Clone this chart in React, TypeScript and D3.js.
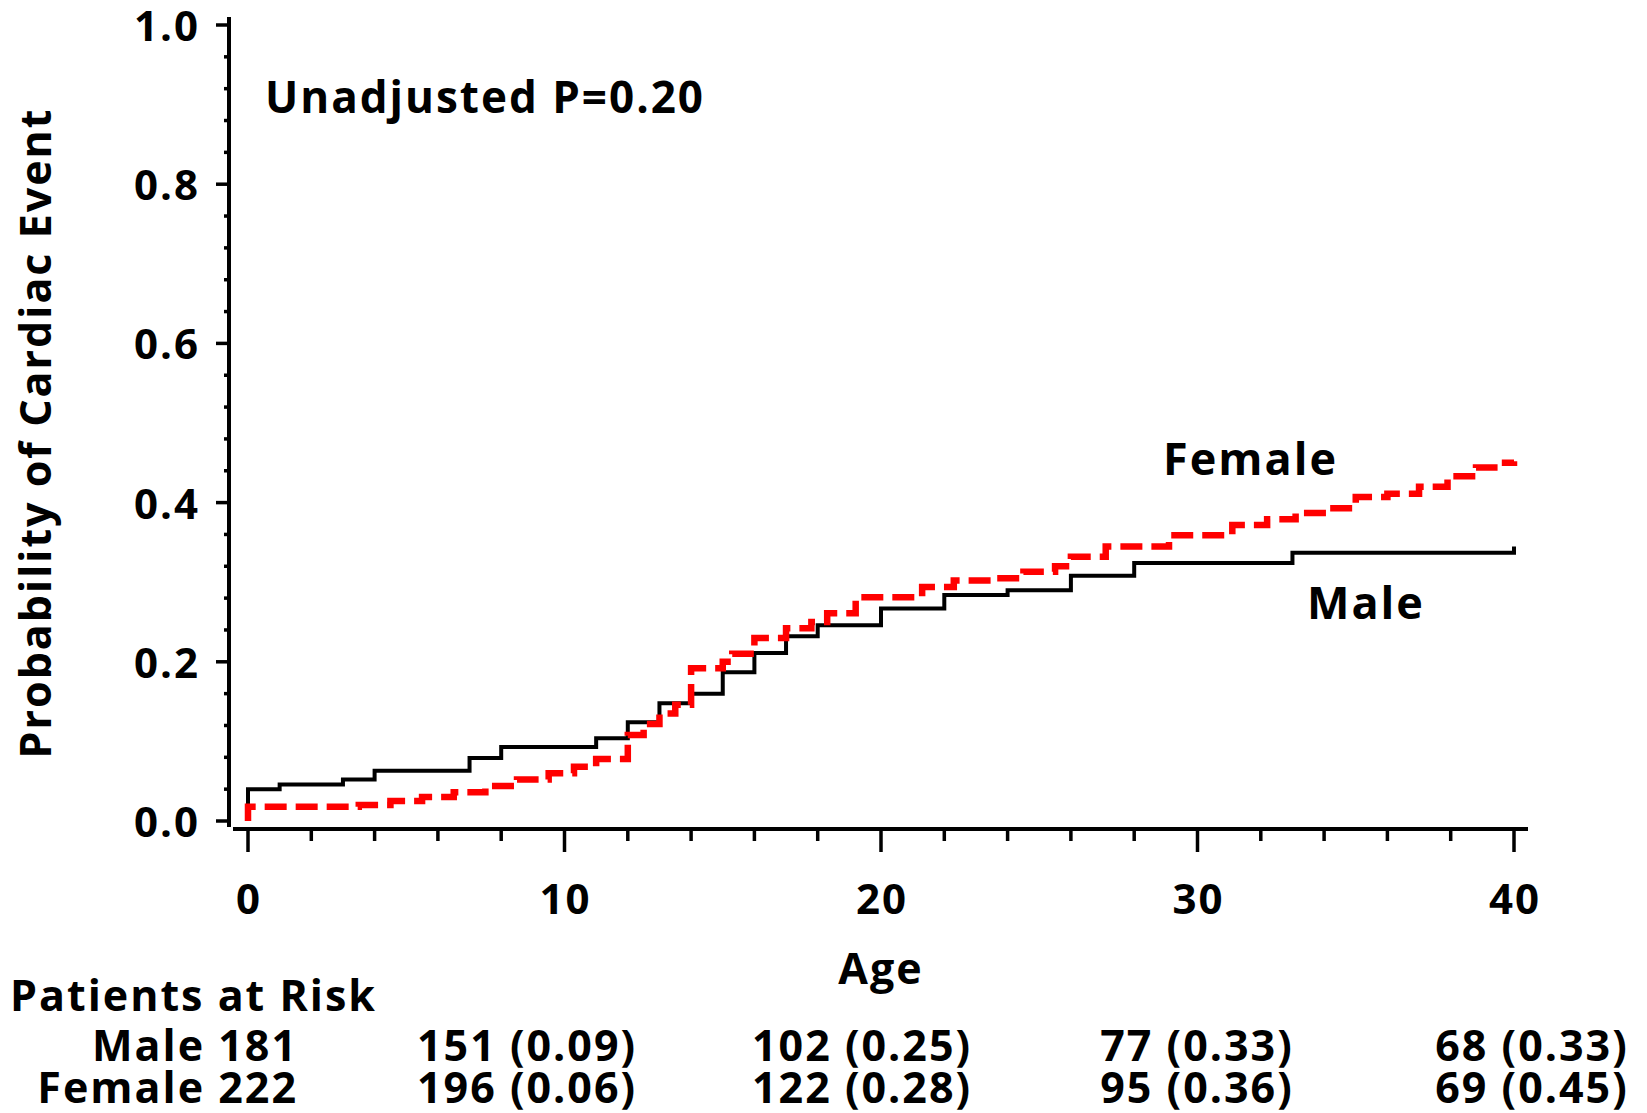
import React from "react";
import * as d3 from "d3";

// Kaplan–Meier style cumulative event probability by sex
const maleAge = [0, 0, 1, 3, 4, 7, 8, 11, 12, 13, 14, 15, 16, 17, 18, 20, 22, 24, 26, 28, 33, 40];
const maleProb = [0, 0.04, 0.046, 0.052, 0.063, 0.079, 0.093, 0.104, 0.124, 0.148, 0.16, 0.187, 0.211, 0.232, 0.246, 0.267, 0.284, 0.29, 0.308, 0.324, 0.337, 0.345];

const femaleAge = [0, 0, 3.5, 4.5, 5.5, 6.5, 7.5, 8.5, 9.5, 10.3, 11, 12, 12.5, 13, 13.5, 14, 15, 15.3, 16, 17, 17.8, 18.3, 19.2, 21.3, 22.3, 23.5, 24.5, 25.5, 26, 27.1, 29.1, 31.1, 32.2, 33.1, 34.1, 35, 36, 37, 37.9, 38.8, 39.5, 40];
const femaleProb = [0, 0.018, 0.02, 0.025, 0.03, 0.036, 0.044, 0.052, 0.06, 0.068, 0.078, 0.108, 0.122, 0.135, 0.146, 0.192, 0.2, 0.21, 0.23, 0.242, 0.25, 0.261, 0.281, 0.294, 0.302, 0.305, 0.313, 0.32, 0.332, 0.345, 0.359, 0.372, 0.379, 0.387, 0.393, 0.407, 0.411, 0.42, 0.433, 0.444, 0.45, 0.452];

const xMajorTicks = [0, 10, 20, 30, 40];
const xMinorTicks = [2, 4, 6, 8, 12, 14, 16, 18, 22, 24, 26, 28, 32, 34, 36, 38];
const yMajorTicks = [0, 0.2, 0.4, 0.6, 0.8, 1.0];
const yMinorTicks = d3.range(0, 1.0001, 0.04).filter((v) => Math.abs(v * 5 - Math.round(v * 5)) > 1e-6);

const riskRowLabels = ["Male 181", "Female 222"];
const riskMale = ["151 (0.09)", "102 (0.25)", "77 (0.33)", "68 (0.33)"];
const riskFemale = ["196 (0.06)", "122 (0.28)", "95 (0.36)", "69 (0.45)"];

const FONT = "'Open Sans', 'Noto Sans', sans-serif";
const LS = 2;

export default function App() {
  const width = 1647;
  const height = 1113;

  const x = d3.scaleLinear().domain([0, 40]).range([248, 1514]);
  const y = d3.scaleLinear().domain([0, 1]).range([821, 25]);

  const step = d3
    .line<[number, number]>()
    .x((d) => x(d[0]))
    .y((d) => y(d[1]))
    .curve(d3.curveStepAfter);

  const malePts = maleAge.map((a, i) => [a, maleProb[i]] as [number, number]);
  const femalePts = femaleAge.map((a, i) => [a, femaleProb[i]] as [number, number]);

  const cols = d3.scalePoint<number>().domain([0, 1, 2, 3]).range([527, 1532]);
  const rowY = [1061, 1103];

  const xAxisY = 829;
  const yAxisX = 229;

  return (
    <svg
      width={width}
      height={height}
      style={{ position: "absolute", left: 0, top: 0, background: "#fff" }}
      fontFamily={FONT}
      fontWeight="bold"
      letterSpacing={LS}
    >
      <rect width={width} height={height} fill="#fff" />

      {/* axes */}
      <line x1={yAxisX} x2={yAxisX} y1={17} y2={827} stroke="#000" strokeWidth={4} />
      <line x1={233} x2={1528} y1={xAxisY} y2={xAxisY} stroke="#000" strokeWidth={4} />

      {yMajorTicks.map((t) => (
        <g key={"ym" + t}>
          <line x1={yAxisX - 13} x2={yAxisX} y1={y(t)} y2={y(t)} stroke="#000" strokeWidth={3.5} />
          <text x={200} y={y(t) + 16} textAnchor="end" fontSize={42}>
            {t.toFixed(1)}
          </text>
        </g>
      ))}
      {yMinorTicks.map((t) => (
        <line key={"yn" + t} x1={yAxisX - 5} x2={yAxisX} y1={y(t)} y2={y(t)} stroke="#000" strokeWidth={3.5} />
      ))}

      {xMajorTicks.map((t) => (
        <g key={"xm" + t}>
          <line x1={x(t)} x2={x(t)} y1={xAxisY} y2={xAxisY + 23} stroke="#000" strokeWidth={3.5} />
          <text x={x(t) + 1} y={914} textAnchor="middle" fontSize={42}>
            {t}
          </text>
        </g>
      ))}
      {xMinorTicks.map((t) => (
        <line key={"xn" + t} x1={x(t)} x2={x(t)} y1={xAxisY} y2={xAxisY + 12} stroke="#000" strokeWidth={3.5} />
      ))}

      {/* axis titles */}
      <text x={881} y={984} textAnchor="middle" fontSize={43}>
        Age
      </text>
      <text transform="translate(51,433) rotate(-90)" textAnchor="middle" fontSize={43}>
        Probability of Cardiac Event
      </text>

      {/* curves */}
      <path d={step(malePts) ?? ""} fill="none" stroke="#000" strokeWidth={4} />
      <path
        d={step(femalePts) ?? ""}
        fill="none"
        stroke="#ff0000"
        strokeWidth={6.5}
        strokeDasharray="22 9"
      />

      {/* annotations */}
      <text x={265} y={113} fontSize={44}>
        Unadjusted P=0.20
      </text>
      <text x={1163} y={475} fontSize={45}>
        Female
      </text>
      <text x={1307} y={619} fontSize={45}>
        Male
      </text>

      {/* patients at risk table */}
      <text x={10} y={1011} fontSize={43}>
        Patients at Risk
      </text>
      {riskRowLabels.map((lab, r) => (
        <text key={lab} x={298} y={rowY[r]} textAnchor="end" fontSize={43}>
          {lab}
        </text>
      ))}
      {riskMale.map((v, i) => (
        <text key={"m" + i} x={cols(i)} y={rowY[0]} textAnchor="middle" fontSize={43}>
          {v}
        </text>
      ))}
      {riskFemale.map((v, i) => (
        <text key={"f" + i} x={cols(i)} y={rowY[1]} textAnchor="middle" fontSize={43}>
          {v}
        </text>
      ))}
    </svg>
  );
}
